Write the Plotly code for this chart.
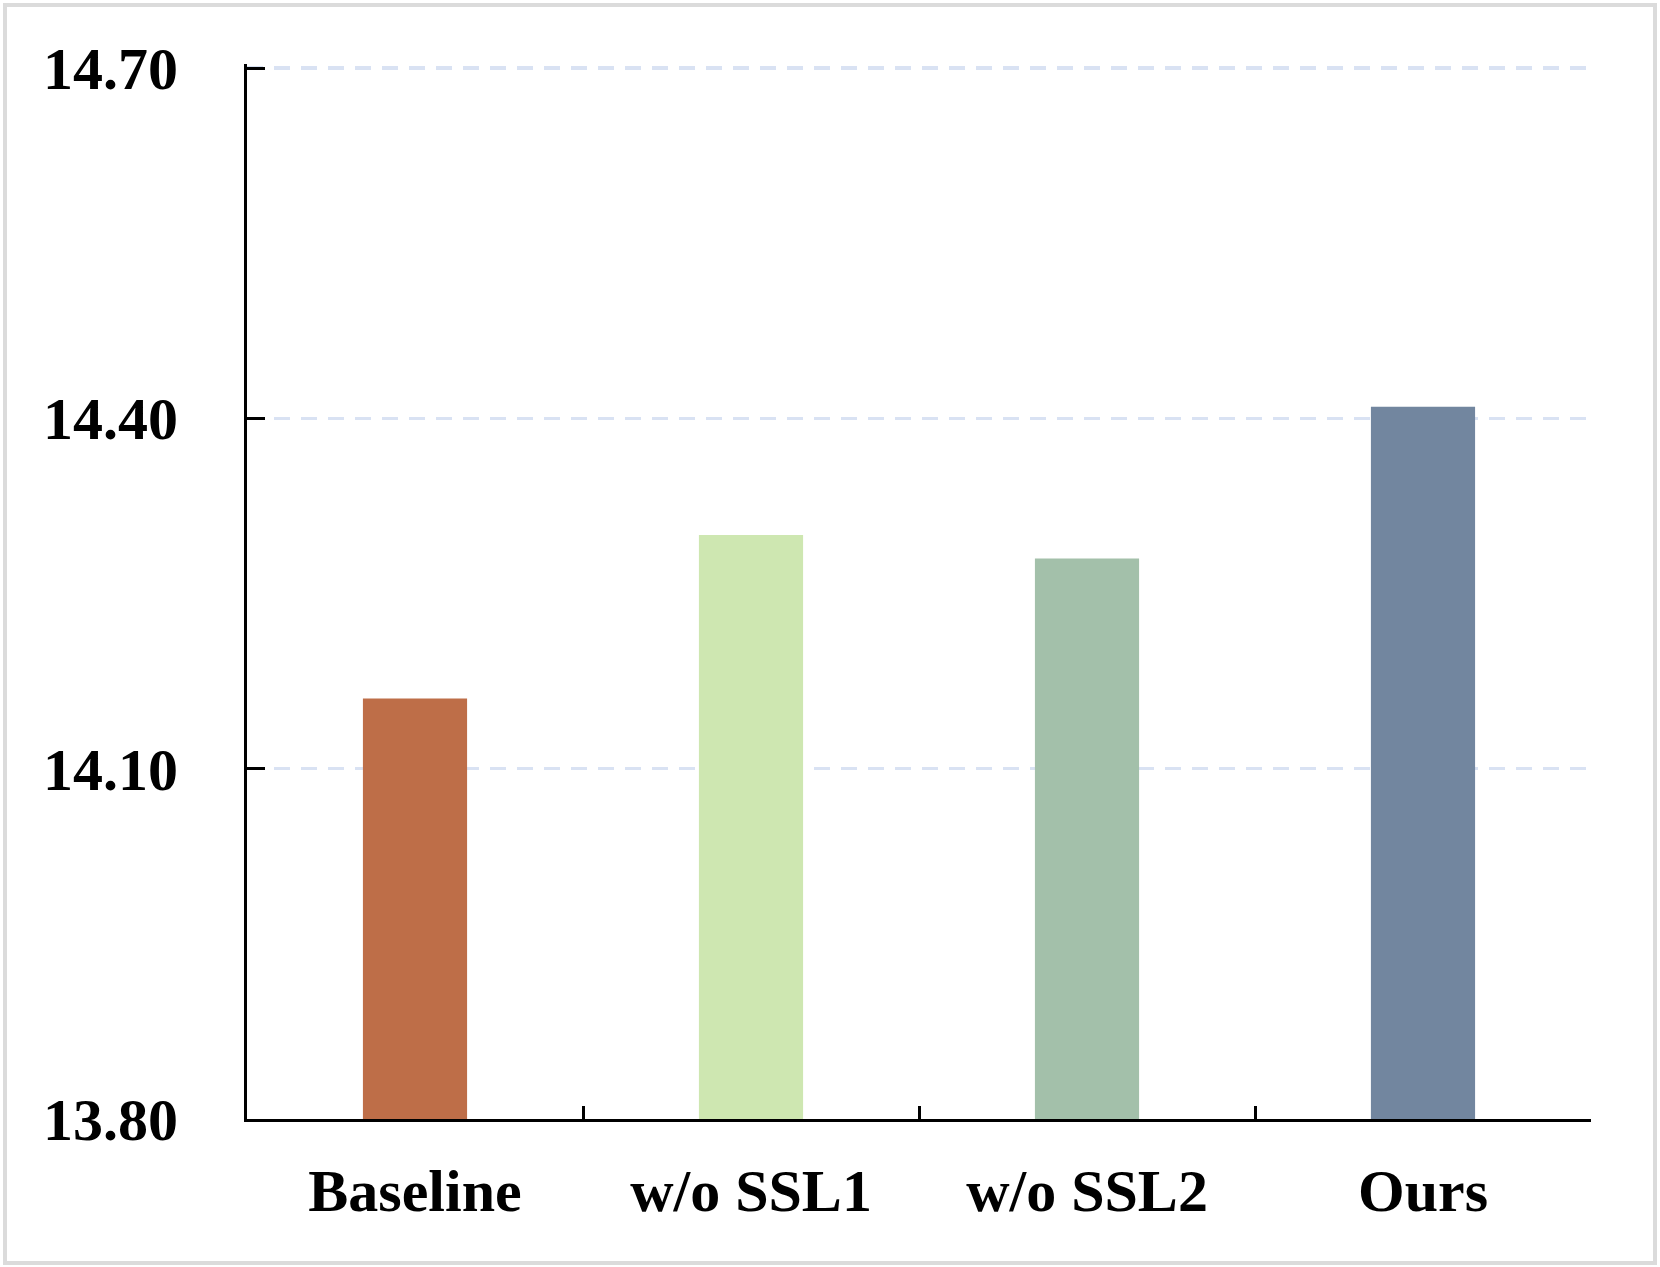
import plotly.graph_objects as go

categories = ["Baseline", "w/o SSL1", "w/o SSL2", "Ours"]
values = [14.16, 14.30, 14.28, 14.41]
bar_colors = ["#BE6E48", "#CEE7B1", "#A3C0AA", "#72869F"]
y_ticks = [13.80, 14.10, 14.40, 14.70]
y_tick_labels = ["13.80", "14.10", "14.40", "14.70"]

W, H = 1660, 1267
L, R, T, B = 247, 69, 64, 148
pw, ph = W - L - R, H - T - B
px_per_unit = 1051 / 0.9
y_top = 13.80 + ph / px_per_unit

def px_x(p):
    return (p - L) / pw

def px_y(p):
    return 1 - (p - T) / ph

font = dict(family="Liberation Serif, Times New Roman, serif", size=60, color="black", weight="bold")

fig = go.Figure()
fig.add_trace(go.Bar(
    x=categories, y=values, marker=dict(color=bar_colors, line=dict(width=0)),
    width=0.31, hoverinfo="skip",
))

fig.update_layout(
    width=W, height=H, autosize=False,
    margin=dict(l=L, r=R, t=T, b=B, pad=0),
    paper_bgcolor="white", plot_bgcolor="white",
    showlegend=False,
)
fig.update_xaxes(
    type="category", tickson="boundaries", ticks="inside", ticklen=13, tickwidth=3,
    tickcolor="black", showline=True, linecolor="black", linewidth=3,
    showgrid=False, tickfont=font, ticklabelstandoff=17, zeroline=False,
)
fig.update_yaxes(
    range=[13.80, y_top], tickvals=y_ticks, ticktext=y_tick_labels,
    ticks="inside", ticklen=18, tickwidth=3, tickcolor="black",
    showline=True, linecolor="black", linewidth=3,
    showgrid=True, gridcolor="#D9E2F3", gridwidth=3.5, griddash="16px,11px",
    tickfont=font, ticklabelstandoff=54, zeroline=False,
)

fig.add_shape(
    type="rect", xref="paper", yref="paper",
    x0=px_x(5), x1=px_x(1655), y0=px_y(1263), y1=px_y(5),
    line=dict(color="#DBDBDB", width=4), fillcolor="rgba(0,0,0,0)", layer="below",
)

fig.write_html(
    "out.html",
    config={"displayModeBar": False, "staticPlot": True},
    post_script="document.body.style.margin='0';document.body.style.overflow='hidden';",
)
